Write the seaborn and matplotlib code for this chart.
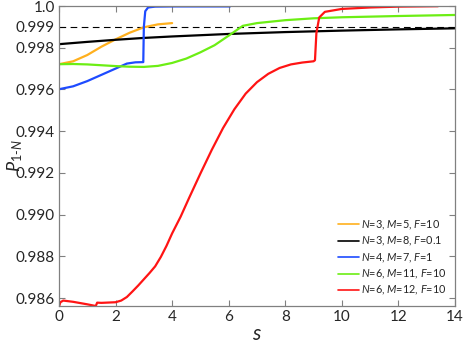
import matplotlib
import matplotlib.pyplot as plt
import pandas as pd
import seaborn as sns

matplotlib.use("Agg")

# series (s, P_1-N)
orange_s = [0.0, 0.5, 1.0, 1.5, 2.0, 2.5, 3.0, 3.5, 4.0]
orange_p = [0.99721, 0.99735, 0.99765, 0.99805, 0.99840, 0.99872, 0.99898, 0.99912, 0.99918]

black_s = [0.0, 1.0, 2.0, 3.0, 4.0, 5.0, 6.0, 8.0, 10.0, 12.0, 14.0]
black_p = [0.99817, 0.99828, 0.99838, 0.99847, 0.99854, 0.99860, 0.99866, 0.99875, 0.99882, 0.99888, 0.99893]

blue_s = [0.0, 0.5, 1.0, 1.5, 2.0, 2.4, 2.7, 2.98, 3.0, 3.05, 3.15, 3.4, 4.0, 5.0, 6.05]
blue_p = [0.99601, 0.99615, 0.99640, 0.99670, 0.99700, 0.99724, 0.99730, 0.99731,
          0.99900, 0.99975, 0.99993, 0.99997, 0.99998, 0.99998, 0.99998]

green_s = [0.0, 0.5, 1.0, 1.5, 2.0, 2.5, 3.0, 3.5, 4.0, 4.5, 5.0, 5.5, 6.0, 6.5,
           7.0, 8.0, 9.0, 10.0, 12.0, 14.0]
green_p = [0.99721, 0.99722, 0.99720, 0.99716, 0.99712, 0.99709, 0.99708, 0.99713,
           0.99727, 0.99748, 0.99778, 0.99812, 0.99858, 0.99905, 0.99918, 0.99932,
           0.99941, 0.99946, 0.99952, 0.99957]

red_s = [0.0, 0.05, 0.15, 0.5, 1.0, 1.3, 1.35, 1.5, 2.0, 2.2, 2.4, 2.6, 2.8, 3.0,
         3.2, 3.4, 3.6, 3.8, 4.0, 4.3, 4.6, 5.0, 5.4, 5.8, 6.2, 6.6, 7.0, 7.4,
         7.8, 8.2, 8.6, 9.0, 9.05, 9.1, 9.2, 9.4, 10.0, 11.0, 12.0, 13.4]
red_p = [0.98560, 0.98580, 0.98588, 0.98582, 0.98570, 0.98562, 0.98578, 0.98577,
         0.98580, 0.98588, 0.98605, 0.98632, 0.98660, 0.98690, 0.98720, 0.98752,
         0.98797, 0.98850, 0.98910, 0.98990, 0.99080, 0.99197, 0.99310, 0.99415,
         0.99505, 0.99580, 0.99635, 0.99675, 0.99703, 0.99720, 0.99729, 0.99735,
         0.99740, 0.99870, 0.99945, 0.99972, 0.99986, 0.99993, 0.99997, 0.99999]

labels = [
    r"$N$=3, $M$=5, $F$=10",
    r"$N$=3, $M$=8, $F$=0.1",
    r"$N$=4, $M$=7, $F$=1",
    r"$N$=6, $M$=11, $F$=10",
    r"$N$=6, $M$=12, $F$=10",
]
colors = ["#FFB01E", "#000000", "#1E4BFF", "#6CEE14", "#FF1414"]

y_ticks = [0.986, 0.988, 0.990, 0.992, 0.994, 0.996, 0.998, 0.999, 1.0]
y_ticklabels = ["0.986", "0.988", "0.990", "0.992", "0.994", "0.996", "0.998", "0.999", "1.0"]
threshold = 0.999

sns.set_theme(style="ticks")
plt.rcParams["font.family"] = ["Lato", "DejaVu Sans"]
plt.rcParams["mathtext.fontset"] = "custom"
plt.rcParams["mathtext.rm"] = "Lato"
plt.rcParams["mathtext.it"] = "Lato:italic"

fig = plt.figure(figsize=(4.63, 3.43), dpi=100)
ax = fig.add_axes([0.1274, 0.1079, 0.8553, 0.8746])

series = [
    (orange_s, orange_p),
    (black_s, black_p),
    (blue_s, blue_p),
    (green_s, green_p),
    (red_s, red_p),
]
for (xs, ys), lab, col in zip(series, labels, colors):
    df = pd.DataFrame({"s": xs, "p": ys})
    sns.lineplot(data=df, x="s", y="p", ax=ax, color=col, linewidth=1.6,
                 estimator=None, sort=False, label=lab)

ax.axhline(threshold, color="black", linestyle=(0, (6, 4)), linewidth=0.8, zorder=1)

ax.set_xlim(0, 14)
ax.set_ylim(0.98562, 1.0)
ax.set_xticks(range(0, 15, 2))
ax.set_yticks(y_ticks)
ax.set_yticklabels(y_ticklabels)

for side in ["top", "right", "left", "bottom"]:
    ax.spines[side].set_color("#808080")
    ax.spines[side].set_linewidth(0.9)
ax.tick_params(direction="in", length=4, width=0.8, color="#808080",
               labelsize=11, top=True, right=True, pad=3)

ax.set_xlabel(r"$s$", fontsize=15, labelpad=0)
ax.set_ylabel(r"$P_{1\text{-}N}$", fontsize=13)
ax.yaxis.set_label_coords(-0.085, 0.5)

leg = ax.legend(loc="lower right", frameon=False, fontsize=7.8, handlelength=1.9,
                handletextpad=0.2, labelspacing=0.3, borderaxespad=0.4)
for h in leg.get_lines():
    h.set_linewidth(1.2)

fig.savefig("out.png", dpi=100)
